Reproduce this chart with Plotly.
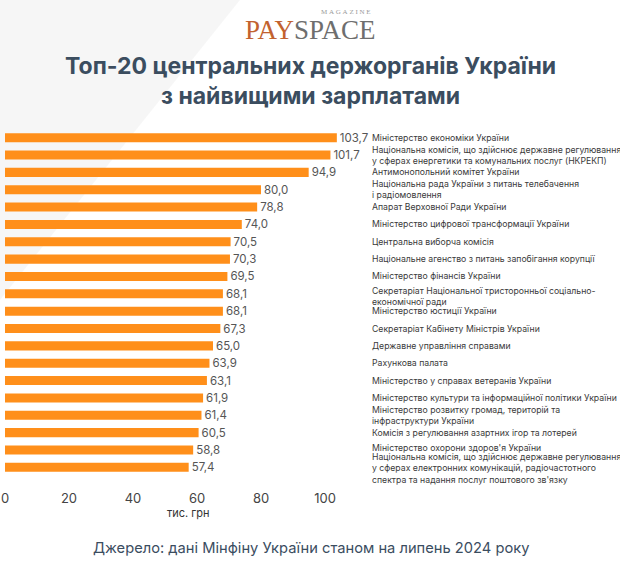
import plotly.graph_objects as go

agencies = [
    "Міністерство економіки України",
    "Національна комісія, що здійснює державне регулювання<br>у сферах енергетики та комунальних послуг (НКРЕКП)",
    "Антимонопольний комітет України",
    "Національна рада України з питань телебачення<br>і радіомовлення",
    "Апарат Верховної Ради України",
    "Міністерство цифрової трансформації України",
    "Центральна виборча комісія",
    "Національне агенство з питань запобігання корупції",
    "Міністерство фінансів України",
    "Секретаріат Національної тристоронньої соціально-<br>економічної ради",
    "Міністерство юстиції України",
    "Секретаріат Кабінету Міністрів України",
    "Державне управління справами",
    "Рахункова палата",
    "Міністерство у справах ветеранів України",
    "Міністерство культури та інформаційної політики України",
    "Міністерство розвитку громад, територій та<br>інфраструктури України",
    "Комісія з регулювання азартних ігор та лотерей",
    "Міністерство охорони здоров'я України",
    "Національна комісія, що здійснює державне регулювання<br>у сферах електронних комунікацій, радіочастотного<br>спектра та надання послуг поштового зв'язку",
]
salaries = [103.7, 101.7, 94.9, 80.0, 78.8, 74.0, 70.5, 70.3, 69.5, 68.1,
            68.1, 67.3, 65.0, 63.9, 63.1, 61.9, 61.4, 60.5, 58.8, 57.4]
tick_values = [0, 20, 40, 60, 80, 100]
x_title = "тис. грн"
title_lines = ["Топ-20 центральних держорганів України", "з найвищими зарплатами"]
source_text = "Джерело: дані Мінфіну України станом на липень 2024 року"

W, H = 620, 562
ML, MR, MT, MB = 5, 0, 129, 86
PW, PH = W - ML - MR, H - MT - MB
px_per_unit = 3.2
x_max = PW / px_per_unit
label_x = (370 - ML) / px_per_unit
FONT = "Inter"


def px(x):
    return (x - ML) / PW


def py(y):
    return (H - MB - y) / PH


ids = list(range(len(agencies)))

fig = go.Figure(go.Bar(
    x=salaries, y=ids, orientation="h",
    marker=dict(color="#FF8F1A", line=dict(width=0)),
    width=0.52,
    text=[f"{v:.1f}".replace(".", ",") for v in salaries],
    textposition="outside",
    constraintext="none",
    textfont=dict(family=FONT, size=11.5, color="#555555"),
    cliponaxis=False,
    hoverinfo="skip",
))

annotations = []
n = len(agencies)
for i, name in enumerate(agencies):
    shift = 0
    if name.startswith("Секретаріат Національної"):
        shift = -3
    elif i == n - 2:
        shift = 2
    elif i == n - 1:
        shift = -1
    annotations.append(dict(
        x=label_x, y=i, xref="x", yref="y", text=name, showarrow=False,
        xanchor="left", yanchor="middle", align="left", yshift=shift,
        font=dict(family=FONT, size=8.7, color="#3A3A3A"),
    ))

title_font = dict(family=FONT, size=23, color="#3B4D5F")
annotations.append(dict(x=px(310), y=py(66), xref="paper", yref="paper",
                        xanchor="center", yanchor="middle", showarrow=False,
                        text="<b>" + title_lines[0] + "</b>", font=title_font))
annotations.append(dict(x=px(310), y=py(96), xref="paper", yref="paper",
                        xanchor="center", yanchor="middle", showarrow=False,
                        text="<b>" + title_lines[1] + "</b>", font=title_font))
annotations.append(dict(x=px(188), y=py(513), xref="paper", yref="paper",
                        xanchor="center", yanchor="middle", showarrow=False,
                        text=x_title,
                        font=dict(family=FONT, size=11, color="#333333")))
annotations.append(dict(x=px(311), y=py(548), xref="paper", yref="paper",
                        xanchor="center", yanchor="middle", showarrow=False,
                        text=source_text,
                        font=dict(family=FONT, size=14.7, color="#3B4D5F")))
annotations.append(dict(x=px(310), y=py(30), xref="paper", yref="paper",
                        xanchor="center", yanchor="middle", showarrow=False,
                        text="<span style='color:#C2622F'>PAY</span><span style='color:#6E6E6E'>SPACE</span>",
                        font=dict(family="Liberation Serif", size=27)))
annotations.append(dict(x=px(346), y=py(12), xref="paper", yref="paper",
                        xanchor="center", yanchor="middle", showarrow=False,
                        text="&nbsp;".join("MAGAZINE"),
                        font=dict(family="Liberation Serif", size=7, color="#9A9A9A")))

shapes = [
    dict(type="path", xref="paper", yref="paper", layer="below",
         path=f"M {px(0)} {py(0)} L {px(240)} {py(0)} L {px(0)} {py(300)} Z",
         fillcolor="rgba(0,0,0,0.035)", line=dict(width=0)),
]

fig.update_layout(
    width=W, height=H,
    margin=dict(l=ML, r=MR, t=MT, b=MB),
    paper_bgcolor="white", plot_bgcolor="rgba(0,0,0,0)",
    showlegend=False,
    xaxis=dict(range=[0, x_max], tickvals=tick_values, showgrid=False,
               zeroline=False, showline=False, ticks="outside", ticklen=10,
               tickcolor="rgba(0,0,0,0)",
               tickfont=dict(family=FONT, size=13, color="#444444")),
    yaxis=dict(range=[n - 0.5, -0.5], showticklabels=False,
               showgrid=False, zeroline=False, showline=False),
    annotations=annotations,
    shapes=shapes,
)

fig.write_html("out.html", config={"displayModeBar": False},
               post_script="document.body.style.margin='0';")
